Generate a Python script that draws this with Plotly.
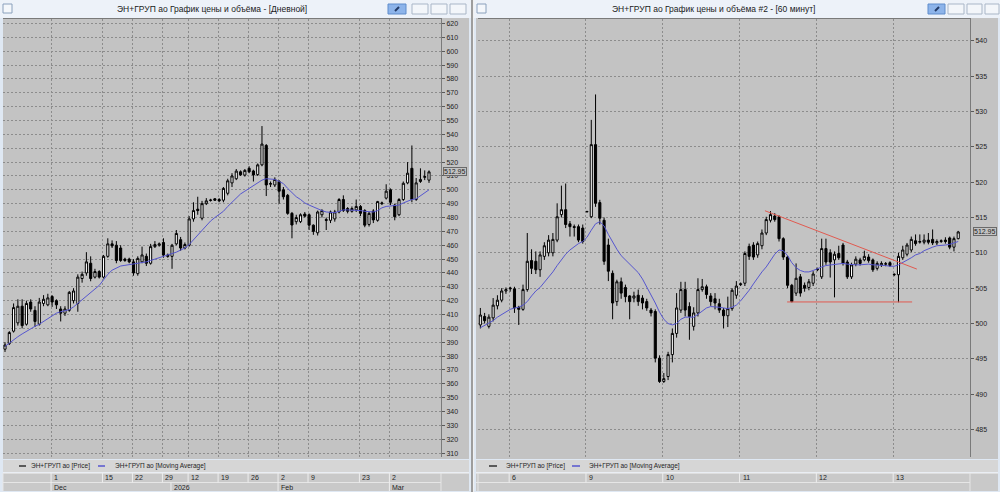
import plotly.graph_objects as go

W, H = 1000, 492
def px(x): return x / W
def py(y): return 1 - y / H

# ---------------- Daily chart data (left) ----------------
d_open = [385, 389, 398, 404, 416, 403, 419, 413, 403, 418, 417, 423, 420, 414, 411, 413, 420, 418, 436, 440,
          447, 437, 441, 437, 452, 461, 460, 458, 450, 450, 448, 439.5, 448, 452, 447, 459, 460, 462, 453, 452,
          461, 464, 458, 460, 479, 486, 479.5, 490, 492.3, 493.5, 493, 492.5, 497.5, 505, 508, 513, 510.6, 515.5, 513.6, 511,
          518, 532, 504, 503.5, 506, 500, 496, 483, 477, 477, 482.5, 482, 474.5, 469, 482, 478.5, 478, 479, 484, 493,
          486.5, 484.5, 485.5, 488, 485, 475, 484.7, 478, 490, 494, 500, 489, 482, 493, 505, 515.5, 493, 506, 509, 507]
d_high = [390, 398, 418, 421, 421, 420, 421, 416, 422, 424, 425, 424, 421, 416, 416, 427, 429, 439, 441, 455,
          452, 443, 442, 453, 465, 463.5, 463, 460, 451, 451, 450, 452, 459, 454, 461, 463, 462, 465, 454, 461,
          471, 466, 462, 481, 491, 495, 492, 494, 493.5, 494, 494, 502, 508, 512, 515, 514, 515, 517, 514.5, 519,
          546, 533, 506, 509, 507, 502, 497, 484, 482, 483, 484, 483, 475, 485, 486, 480, 485, 485.5, 494, 496,
          487.5, 488, 493, 489, 486, 484, 486, 492, 491.5, 504, 501, 490, 494, 506, 520, 532, 508.5, 515.5, 514, 514]
d_low = [383, 388, 397, 402, 400, 402, 412, 401, 402, 416, 416, 415.5, 414, 405, 409, 412, 418, 412, 433, 438,
         434, 436, 436, 436, 451, 458, 447, 448, 448, 447, 438, 438, 447, 445, 446, 458, 459, 451, 451, 443,
         460, 456, 457, 459, 477, 482, 478, 489, 491.5, 492, 491, 491, 496, 502, 507, 510, 509.5, 512, 506, 510,
         517, 495.5, 502, 502, 490, 493, 482, 465, 475, 476, 480, 471, 467.5, 467, 480, 471, 476, 477, 483, 484,
         483, 483.5, 484, 481, 473, 473.5, 476, 477, 489, 493, 489, 478, 481, 492, 504, 491, 492, 505, 507, 505]
d_close = [388, 397, 415, 416, 402, 418, 414, 405, 419, 421, 422, 419, 417, 411, 414, 426, 427, 437, 439, 448,
           436, 441, 437, 452, 461, 459.5, 449, 449, 449, 448, 440, 450.5, 453, 447, 459, 460.5, 461, 453, 452, 460,
           468.5, 458, 460.5, 479, 485, 485, 490, 492, 492.6, 492.5, 492, 501, 506.5, 510, 513.5, 510.8, 514, 513, 510.7, 518,
           533, 503.5, 504.5, 507.5, 499, 495, 483, 474.6, 480, 482, 481, 474.5, 470, 484, 485, 478, 484, 484, 493, 485,
           484.5, 486.5, 488, 483, 474.5, 483, 478.3, 491.5, 490.5, 499, 491, 480.6, 493, 504.7, 512, 493, 505, 507.5, 509.5, 512.95]
d_ma = [387, 389.5, 392, 394, 396, 398, 400, 401.5, 403, 405, 407.5, 409.5, 411, 412, 412.5, 413.5, 415.5, 418, 420.5, 423,
        425.5, 428, 431, 435, 439, 442, 443.5, 445, 445.5, 446, 446, 446.5, 447, 448, 449, 450, 451, 452, 452.5, 453.5,
        455, 456.5, 458, 460.5, 464, 467.5, 471, 474.5, 477.5, 480, 482, 484.5, 488, 491, 494, 497, 499, 501, 502.5, 504.5,
        507, 508, 508, 507.5, 506, 504.5, 501, 498, 495, 493, 490.5, 489, 487.5, 486, 485, 484, 483.5, 483.5, 484.5, 485.5,
        485.5, 485.5, 485, 485, 484.5, 484, 484, 485, 487, 488, 488.5, 488.5, 489, 490.5, 492, 493, 493.5, 495.5, 498, 500]
d_tick_idx = [11, 23, 30, 37, 43, 50, 57, 64, 71, 83, 90]
d_tick_lbl = ["1", "15", "22", "29", "12", "19", "26", "2", "9", "23", "2"]
d_month_idx = [11, 39, 64, 90]
d_month_lbl = ["Dec", "2026", "Feb", "Mar"]
d_yticks = list(range(310, 621, 10))

# ---------------- Hourly chart data (right) ----------------
h_open = [499.8, 501.0, 499.6, 500.8, 502.5, 503.3, 504.6, 504.9, 504.9, 502.3, 502.0, 504.8, 508.9, 508.8, 507.6, 509.5, 510.0, 510.0, 511.8, 515.4,
          516.1, 514.1, 513.7, 513.7, 513.5, 515.8, 515.1, 525.3, 517.1, 514.6, 511.1, 507.1, 503.1, 505.9, 505.1, 503.9, 503.6, 504.0, 503.6, 503.1,
          501.9, 501.7, 495.1, 491.8, 492.5, 495.6, 498.6, 501.9, 504.8, 502.4, 499.6, 501.5, 504.8, 505.2, 503.9, 503.5, 502.8, 501.9, 501.1, 502.1,
          504.0, 505.5, 505.7, 510.9, 511.1, 509.7, 511.0, 512.8, 514.6, 515.2, 515.1, 512.0, 509.4, 505.4, 504.3, 506.6, 505.4, 505.1, 505.7, 507.6,
          506.6, 510.6, 510.0, 509.0, 509.9, 511.1, 508.7, 506.6, 508.4, 509.0, 509.0, 509.4, 509.0, 507.8, 508.3, 508.4, 508.6, 506.9, 506.9, 509.3,
          509.8, 510.4, 511.7, 511.5, 511.5, 511.8, 511.9, 511.4, 511.6, 511.8, 512.1, 510.8, 512.0]
h_high = [502.2, 501.5, 501.3, 503.6, 504.0, 505.0, 505.1, 505.2, 505.2, 502.5, 505.5, 512.8, 510.5, 510.2, 510.2, 511.5, 512.5, 512.8, 517.0, 519.5,
          519.8, 514.5, 514.0, 514.0, 514.0, 515.9, 528.8, 532.4, 517.5, 515.0, 512.0, 507.5, 506.2, 506.5, 505.5, 504.0, 504.5, 504.8, 504.0, 503.5,
          502.2, 502.0, 495.5, 493.0, 496.0, 499.3, 504.3, 505.9, 505.9, 503.0, 502.3, 506.4, 506.3, 505.5, 504.3, 504.3, 503.5, 502.2, 503.8, 505.0,
          506.0, 505.8, 510.2, 511.3, 511.5, 511.6, 513.3, 515.1, 515.9, 515.6, 515.3, 512.2, 509.6, 505.6, 508.5, 507.0, 505.8, 506.3, 507.4, 507.9,
          512.0, 512.0, 510.5, 510.2, 511.0, 511.4, 509.0, 508.6, 509.5, 509.3, 510.3, 509.8, 509.2, 508.8, 508.8, 508.7, 508.8, 507.1, 510.0, 511.0,
          511.4, 512.3, 512.6, 512.6, 512.6, 512.8, 513.3, 511.9, 511.9, 512.2, 512.3, 512.3, 513.1]
h_low = [499.3, 500.0, 499.3, 500.3, 502.0, 503.0, 504.2, 504.5, 501.5, 499.8, 501.8, 504.5, 507.0, 507.0, 506.6, 509.0, 509.5, 509.5, 511.5, 515.0,
         513.5, 512.3, 512.3, 511.5, 511.3, 515.7, 514.9, 516.5, 514.0, 508.3, 506.0, 500.6, 502.5, 503.5, 503.0, 500.6, 503.0, 502.5, 502.0, 501.8,
         501.0, 494.5, 491.6, 491.6, 492.0, 494.5, 498.0, 501.5, 501.0, 497.7, 499.0, 501.0, 504.5, 503.5, 502.5, 502.0, 501.5, 499.3, 499.5, 501.8,
         503.5, 505.3, 505.3, 509.0, 509.0, 509.3, 510.5, 512.5, 514.3, 514.4, 511.6, 509.0, 505.0, 503.0, 503.9, 503.8, 504.5, 504.7, 505.3, 507.4,
         506.3, 508.3, 506.5, 503.7, 509.0, 508.2, 506.3, 506.3, 508.1, 508.2, 508.8, 508.6, 507.3, 507.5, 508.0, 508.1, 508.0, 506.7, 503.0, 509.0,
         509.5, 510.1, 511.0, 511.3, 511.2, 511.2, 511.1, 511.1, 511.4, 511.3, 510.5, 510.2, 511.9]
h_close = [501.2, 500.4, 500.9, 502.6, 503.3, 504.6, 504.8, 505.0, 502.2, 502.0, 504.8, 508.8, 507.8, 507.6, 509.7, 511.0, 511.8, 511.9, 515.1, 516.1,
           514.0, 513.7, 513.6, 511.8, 511.6, 515.85, 525.3, 517.0, 514.9, 508.8, 507.4, 502.9, 505.9, 504.3, 503.8, 503.1, 503.9, 503.1, 502.9, 502.2,
           501.5, 495.1, 491.8, 492.2, 495.6, 498.6, 502.2, 504.8, 501.9, 501.0, 501.5, 504.8, 505.2, 504.1, 503.1, 502.9, 501.9, 501.1, 502.1, 504.7,
           505.3, 505.6, 509.9, 509.5, 509.4, 511.3, 512.8, 514.7, 515.4, 514.7, 512.0, 509.4, 505.4, 503.1, 506.4, 504.3, 505.0, 505.9, 507.0, 507.7,
           510.6, 508.7, 508.7, 509.8, 509.3, 508.5, 506.6, 508.3, 509.1, 508.5, 509.5, 508.9, 507.6, 508.5, 508.5, 508.45, 508.2, 506.95, 509.5, 510.4,
           511.1, 511.9, 511.3, 511.6, 511.8, 511.5, 511.4, 511.6, 511.7, 511.6, 510.8, 512.0, 512.95]
h_ma = [499.4, 499.7, 500.0, 500.4, 500.9, 501.3, 501.6, 502.0, 502.2, 502.3, 502.6, 503.1, 503.9, 504.6, 505.1, 505.8, 506.6, 507.3, 508.2, 509.0,
        509.8, 510.4, 510.9, 511.3, 511.6, 512.2, 513.2, 514.1, 514.4, 513.8, 512.6, 511.5, 510.5, 509.6, 509.0, 508.4, 507.8, 507.2, 506.3, 505.2,
        504.0, 502.9, 501.6, 500.6, 500.0, 499.8, 500.0, 500.6, 500.9, 500.9, 500.9, 501.3, 501.8, 502.2, 502.4, 502.4, 502.3, 502.2, 502.1, 502.3,
        502.6, 503.2, 503.9, 504.7, 505.6, 506.5, 507.3, 508.0, 509.0, 509.8, 510.4, 510.3, 509.6, 508.6, 507.9, 507.5, 507.3, 507.3, 507.5, 507.8,
        508.0, 508.2, 508.3, 508.4, 508.5, 508.5, 508.4, 508.3, 508.3, 508.3, 508.4, 508.4, 508.3, 508.3, 508.3, 508.2, 508.1, 508.1, 508.3, 508.6,
        508.9, 509.3, 509.7, 509.9, 510.3, 510.6, 510.8, 511.0, 511.0, 511.1, 511.2, 511.4, 511.6]
h_tick_idx = [7, 25, 43, 61, 79, 97]
h_tick_lbl = ["6", "9", "10", "11", "12", "13"]
h_yticks = list(range(485, 541, 5))
trend_x = [66.7, 102.3]
trend_y = [515.95, 507.7]
support_x = [71.9, 101.2]
support_y = [503.05, 503.05]
last_price = 512.95

titles = ["ЭН+ГРУП ао График цены и объёма - [Дневной]",
          "ЭН+ГРУП ао График цены и объёма #2 - [60 минут]"]
leg_price = "ЭН+ГРУП ао [Price]"
leg_ma = "ЭН+ГРУП ао [Moving Average]"

PANE = '#c3c3c3'
GRID = '#8c8c8c'
MA_C = '#5656cf'
RED = '#e05a50'
FONT = 'Liberation Sans'

fig = go.Figure()
cs_style = dict(increasing=dict(line=dict(color='black', width=1), fillcolor='white'),
                decreasing=dict(line=dict(color='black', width=1), fillcolor='black'),
                whiskerwidth=0, showlegend=False, hoverinfo='skip')
fig.add_trace(go.Candlestick(x=list(range(len(d_open))), open=d_open, high=d_high, low=d_low, close=d_close,
                             xaxis='x', yaxis='y', **cs_style))
fig.add_trace(go.Scatter(x=list(range(len(d_ma))), y=d_ma, mode='lines', line=dict(color=MA_C, width=1),
                         xaxis='x', yaxis='y', showlegend=False, hoverinfo='skip'))
fig.add_trace(go.Candlestick(x=list(range(len(h_open))), open=h_open, high=h_high, low=h_low, close=h_close,
                             xaxis='x2', yaxis='y2', **cs_style))
fig.add_trace(go.Scatter(x=list(range(len(h_ma))), y=h_ma, mode='lines', line=dict(color=MA_C, width=1),
                         xaxis='x2', yaxis='y2', showlegend=False, hoverinfo='skip'))
fig.add_trace(go.Scatter(x=trend_x, y=trend_y, mode='lines', line=dict(color=RED, width=1),
                         xaxis='x2', yaxis='y2', showlegend=False, hoverinfo='skip'))
fig.add_trace(go.Scatter(x=support_x, y=support_y, mode='lines', line=dict(color=RED, width=1),
                         xaxis='x2', yaxis='y2', showlegend=False, hoverinfo='skip'))

def xax(dom, rng, ticks, anchor):
    return dict(domain=dom, range=rng, side='top', anchor=anchor, showline=True, linecolor='#7a7a7a', linewidth=1,
                tickvals=[t - 0.25 for t in ticks], showticklabels=False, ticks='', showgrid=True,
                gridcolor=GRID, griddash='2px,2px', gridwidth=1, zeroline=False,
                rangeslider=dict(visible=False), fixedrange=True)

def yax(rng, ticks, anchor):
    return dict(domain=[py(457), py(19)], range=rng, side='right', anchor=anchor, tickvals=ticks,
                ticks='outside', ticklen=3, tickcolor='#5a5a5a', showline=True, linecolor='#7a7a7a', linewidth=1,
                showgrid=True, gridcolor=GRID, griddash='2px,2px', gridwidth=1, zeroline=False,
                tickfont=dict(size=7, color='#1e1e1e', family=FONT), fixedrange=True)

fig.update_layout(
    width=W, height=H, margin=dict(l=0, r=0, t=0, b=0),
    paper_bgcolor='#f0f0f0', plot_bgcolor=PANE, showlegend=False,
    xaxis=xax([px(3), px(441)], [-0.47, 101.8], d_tick_idx, 'y'),
    yaxis=yax([307.2, 623.25], d_yticks, 'x'),
    xaxis2=xax([px(478), px(970)], [-0.55, 114.76], h_tick_idx, 'y2'),
    yaxis2=yax([481.12, 543.07], h_yticks, 'x2'),
)

shapes = []
ann = []

def rect(x0, y0, x1, y1, fill, line=None, lw=0):
    shapes.append(dict(type='rect', xref='paper', yref='paper', x0=px(x0), x1=px(x1), y0=py(y1), y1=py(y0),
                       fillcolor=fill, line=dict(color=line or fill, width=lw), layer='below'))

def pline(x0, y0, x1, y1, color, w=1, layer='above'):
    shapes.append(dict(type='line', xref='paper', yref='paper', x0=px(x0), x1=px(x1), y0=py(y0), y1=py(y1),
                       line=dict(color=color, width=w), layer=layer))

def text(x, y, s, size=7, anchor='left', color='#1e1e1e', family=FONT):
    ann.append(dict(xref='paper', yref='paper', x=px(x), y=py(y), text=s, showarrow=False, xanchor=anchor,
                    yanchor='middle', font=dict(size=size, color=color, family=family)))

panels = [
    dict(x0=0, x1=471, pane0=3, pane1=469, plot0=3, plot1=441, title_x=212, title=titles[0],
         blue=(388, 406), btns=[(412, 428), (431, 447), (450, 466)], leg=(19, 26, 29, 98, 105, 113), xref='x',
         tick_idx=d_tick_idx, tick_lbl=d_tick_lbl, month_idx=d_month_idx, month_lbl=d_month_lbl),
    dict(x0=474, x1=1000, pane0=476, pane1=998, plot0=478, plot1=970, title_x=713, title=titles[1],
         blue=(928, 945), btns=[(948, 964), (967, 982), (985, 999)], leg=(489, 497, 504, 572, 580, 587), xref='x2',
         tick_idx=h_tick_idx, tick_lbl=h_tick_lbl, month_idx=[], month_lbl=[]),
]

for p in panels:
    # window frame and title bar
    rect(p['x0'], 0, p['x1'], 492, '#dfe8f3')
    rect(p['x0'], 0, p['x1'], 18, '#edf2f9')
    rect(p['x0'] + 3, 4, p['x0'] + 12, 13, '#f4f7fb', '#8aa0bc', 1)
    text(p['title_x'], 9, p['title'], size=8.5, anchor='center', color='#1a1a1a')
    rect(p['blue'][0], 4, p['blue'][1], 14, '#8db4ea', '#5f8ccb', 1)
    pline(p['blue'][0] + 7, 11, p['blue'][0] + 11, 7, '#233b66', 2)
    for b0, b1 in p['btns']:
        rect(b0, 4, b1, 14, '#f3f6fa', '#a9b6c7', 1)
    # chart pane
    rect(p['pane0'], 18, p['pane1'], 459, PANE)
    # legend strip
    rect(p['pane0'], 460, p['pane1'], 472, '#d6d6d6')
    l = p['leg']
    pline(l[0], 466, l[1], 466, '#303030', 1.5)
    text(l[2], 466, leg_price, size=6.5)
    pline(l[3], 466, l[4], 466, MA_C, 1.5)
    text(l[5], 466, leg_ma, size=6.5)
    # date rows
    rect(p['pane0'], 473, p['pane1'], 491, '#c9c9c9')
    pline(p['pane0'], 473, p['pane1'], 473, '#f4f4f4', 1)
    pline(p['pane0'], 482.5, p['plot1'], 482.5, '#e6e6e6', 1)
    pline(p['plot1'], 473, p['plot1'], 491, '#e6e6e6', 1)
    pline(p['plot0'], 473, p['plot0'], 491, '#e6e6e6', 1)
    for t, s in zip(p['tick_idx'], p['tick_lbl']):
        shapes.append(dict(type='line', xref=p['xref'], yref='paper', x0=t - 0.25, x1=t - 0.25,
                           y0=py(482.5), y1=py(473), line=dict(color='#eeeeee', width=1)))
        ann.append(dict(xref=p['xref'], yref='paper', x=t - 0.25, y=py(477.8), text=s, showarrow=False,
                        xanchor='left', xshift=1, yanchor='middle', font=dict(size=7, color='#1e1e1e', family=FONT)))
    for t, s in zip(p['month_idx'], p['month_lbl']):
        shapes.append(dict(type='line', xref=p['xref'], yref='paper', x0=t - 0.25, x1=t - 0.25,
                           y0=py(491), y1=py(482.5), line=dict(color='#eeeeee', width=1)))
        ann.append(dict(xref=p['xref'], yref='paper', x=t - 0.25, y=py(487), text=s, showarrow=False,
                        xanchor='left', xshift=1, yanchor='middle', font=dict(size=7, color='#1e1e1e', family=FONT)))

# separator between windows
pline(472, 0, 472, 492, '#4a4a4a', 1)

# last price labels
for yref, xpos in (('y', 443), ('y2', 973)):
    ann.append(dict(xref='paper', yref=yref, x=px(xpos), y=last_price, text=f"{last_price:.2f}", showarrow=False,
                    xanchor='left', yanchor='middle', font=dict(size=7, color='#1e1e1e', family=FONT),
                    bgcolor=PANE, bordercolor='#6a6a6a', borderwidth=1, borderpad=0))

fig.update_layout(shapes=shapes, annotations=ann)
fig.write_html("out.html", config={'displayModeBar': False},
               post_script="document.body.style.margin='0px';document.body.style.overflow='hidden';")
